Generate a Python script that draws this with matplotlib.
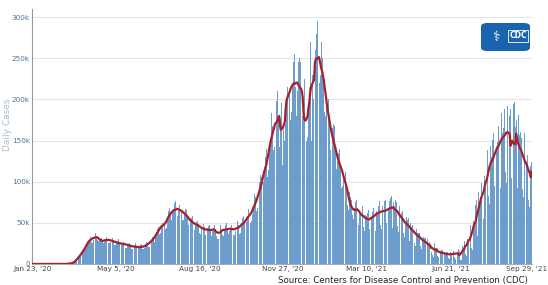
import matplotlib
matplotlib.use("Agg")
import matplotlib.pyplot as plt
import matplotlib.transforms as mtransforms
from matplotlib.patches import FancyBboxPatch
import pandas as pd

# daily new cases (thousands), one row per week, weeks start on Thursday Jan 23 2020
daily_k = [
    0, 0, 0, 0, 0, 0, 0,
    0, 0, 0, 0, 0, 0, 0,
    0, 0, 0, 0, 0, 0, 0,
    0, 0, 0, 0, 0, 0, 0,
    0, 0, 0, 0, 0, 0, 0,
    0, 0, 0, 0, 0.02, 0.03, 0.05,
    0.1, 0.2, 0.3, 0.3, 0.5, 0.6, 0.8,
    1.0, 1.5, 1.8, 2.2, 3.5, 4.5, 6.0,
    7, 9, 10, 10, 11, 13, 14,
    17, 20, 22, 19, 21, 25, 27,
    30, 33, 33, 27, 26, 29, 32,
    37, 38, 34, 29, 28, 30, 31,
    30, 32, 29, 25, 25, 27, 28,
    33, 34, 31, 26, 25, 27, 30,
    31, 32, 29, 23, 23, 25, 27,
    28, 30, 27, 21, 21, 23, 26,
    27, 28, 25, 20, 20, 23, 24,
    25, 26, 23, 18, 18, 21, 22,
    23, 25, 22, 17, 17, 20, 21,
    23, 24, 22, 18, 18, 20, 22,
    25, 27, 26, 21, 21, 25, 28,
    31, 33, 32, 27, 28, 34, 38,
    42, 45, 44, 37, 38, 45, 50,
    54, 52, 48, 42, 44, 52, 60,
    65, 68, 63, 54, 55, 62, 67,
    74, 77, 68, 56, 58, 65, 72,
    72, 73, 66, 53, 54, 60, 66,
    67, 66, 58, 48, 47, 52, 56,
    56, 58, 52, 42, 41, 47, 51,
    52, 55, 49, 38, 37, 43, 47,
    46, 49, 45, 35, 35, 40, 44,
    46, 48, 43, 35, 34, 40, 44,
    47, 50, 42, 34, 30, 30, 36,
    46, 48, 43, 35, 34, 39, 43,
    47, 50, 44, 36, 36, 40, 45,
    47, 50, 44, 35, 35, 40, 44,
    49, 52, 47, 37, 38, 44, 50,
    56, 58, 52, 44, 44, 51, 58,
    67, 70, 62, 50, 52, 61, 67,
    78, 85, 82, 64, 68, 78, 84,
    100, 108, 106, 86, 90, 100, 118,
    130, 140, 132, 106, 114, 135, 150,
    170, 184, 168, 138, 142, 160, 176,
    198, 210, 178, 142, 158, 178, 196,
    120, 170, 185, 150, 170, 200, 215,
    230, 240, 205, 175, 185, 215, 240,
    245, 255, 215, 180, 190, 210, 245,
    250, 245, 200, 170, 180, 200, 225,
    200, 110, 150, 155, 185, 215, 240,
    270, 150, 230, 200, 215, 230, 260,
    280, 296, 260, 205, 220, 230, 270,
    250, 260, 225, 185, 180, 195, 210,
    205, 200, 172, 138, 142, 152, 165,
    170, 168, 140, 112, 115, 125, 135,
    140, 140, 115, 92, 95, 108, 115,
    118, 112, 92, 72, 66, 80, 88,
    82, 78, 60, 48, 55, 68, 75,
    78, 80, 55, 48, 62, 62, 67,
    68, 70, 45, 40, 60, 57, 58,
    62, 66, 42, 38, 57, 56, 63,
    68, 72, 45, 40, 64, 62, 70,
    74, 76, 48, 42, 70, 64, 72,
    76, 78, 50, 42, 72, 68, 76,
    80, 83, 52, 44, 75, 70, 78,
    74, 75, 46, 39, 70, 62, 67,
    62, 64, 38, 33, 58, 52, 57,
    54, 56, 32, 28, 50, 45, 48,
    45, 46, 26, 22, 42, 38, 40,
    38, 38, 22, 18, 35, 31, 33,
    32, 32, 17, 14, 30, 26, 27,
    26, 25, 14, 11, 9, 26, 23,
    20, 20, 10, 8, 17, 15, 16,
    17, 17, 8, 7, 15, 13, 14,
    15, 15, 7, 6, 14, 12, 13,
    16, 16, 8, 6, 15, 13, 14,
    18, 16, 5, 4, 5, 22, 20,
    28, 30, 12, 10, 30, 25, 27,
    45, 48, 20, 17, 52, 45, 50,
    72, 78, 34, 29, 88, 74, 82,
    99, 104, 62, 55, 107, 93, 97,
    132, 139, 83, 73, 144, 125, 130,
    151, 159, 95, 84, 165, 143, 148,
    168, 177, 105, 93, 183, 159, 165,
    179, 189, 112, 99, 192, 170, 179,
    180, 188, 105, 95, 90, 195, 197,
    166, 175, 104, 92, 181, 157, 161,
    146, 153, 91, 81, 159, 138, 143,
    125, 132, 78, 69, 137, 119, 124,
]
start_date = "2020-01-23"
tick_dates = ["2020-01-23", "2020-05-05", "2020-08-16", "2020-11-27",
              "2021-03-10", "2021-06-21", "2021-09-29"]
tick_labels = ["Jan 23, '20", "May 5, '20", "Aug 16, '20", "Nov 27, '20",
               "Mar 10, '21", "Jun 21, '21", "Sep 29, '21"]
y_ticks = [0, 50000, 100000, 150000, 200000, 250000, 300000]
y_labels = ["0", "50k", "100k", "150k", "200k", "250k", "300k"]

cases = pd.Series(daily_k, index=pd.date_range(start_date, periods=len(daily_k))) * 1000
avg7 = cases.rolling(7, center=True, min_periods=1).mean()

fig = plt.figure(figsize=(5.48, 2.85), dpi=100)
ax = fig.add_axes([32 / 548, 1 - 264 / 285, 500 / 548, 255 / 285])

ax.bar(cases.index, cases.values, width=0.88, color="#6d9dcd", linewidth=0, zorder=2)
ax.plot(avg7.index, avg7.values, color="#a8202a", linewidth=1.6, zorder=3)

ax.set_ylim(0, 310000)
ax.set_xlim(pd.Timestamp(start_date) - pd.Timedelta(hours=12),
            pd.Timestamp(tick_dates[-1]) + pd.Timedelta(hours=12))
ax.set_yticks(y_ticks)
ax.set_yticklabels(y_labels, fontsize=5.2, color="#4f74a3")
ax.set_xticks(pd.to_datetime(tick_dates))
ax.set_xticklabels(tick_labels, fontsize=5.2, color="#444444")
ax.tick_params(axis="both", length=0, pad=1.5)
# nudge the last date label so it stays inside the figure
last = ax.get_xticklabels()[-1]
last.set_transform(last.get_transform() +
                   mtransforms.ScaledTranslation(-5 / 100, 0, fig.dpi_scale_trans))
ax.grid(axis="y", color="#dde5ee", linewidth=0.8, zorder=0)
ax.set_axisbelow(True)
for side in ["top", "right"]:
    ax.spines[side].set_visible(False)
ax.spines["left"].set_color("#999999")
ax.spines["bottom"].set_color("#aaaaaa")
fig.text(8 / 548, 1 - 125 / 285, "Daily Cases", rotation=90, fontsize=6.5,
         color="#a9bcd3", ha="center", va="center")

# CDC logo badge
badge = FancyBboxPatch((481 / 548, 1 - 51 / 285), 49 / 548, 28 / 285,
                       boxstyle="round,pad=0,rounding_size=0.012",
                       transform=fig.transFigure, facecolor="#1a63b0",
                       edgecolor="none")
fig.patches.append(badge)
fig.text(496 / 548, 1 - 37 / 285, "\u2695", color="white", fontsize=10,
         ha="center", va="center")
fig.text(518 / 548, 1 - 36 / 285, "CDC", color="white", fontsize=5.5,
         fontweight="bold", ha="center", va="center",
         bbox=dict(boxstyle="square,pad=0.2", facecolor="none",
                   edgecolor="white", linewidth=0.6))

fig.text(528 / 548, 1 - 281 / 285, "Source: Centers for Disease Control and Prevention (CDC)",
         fontsize=6.2, color="#222222", ha="right", va="center")

fig.savefig("out.png", dpi=100)
